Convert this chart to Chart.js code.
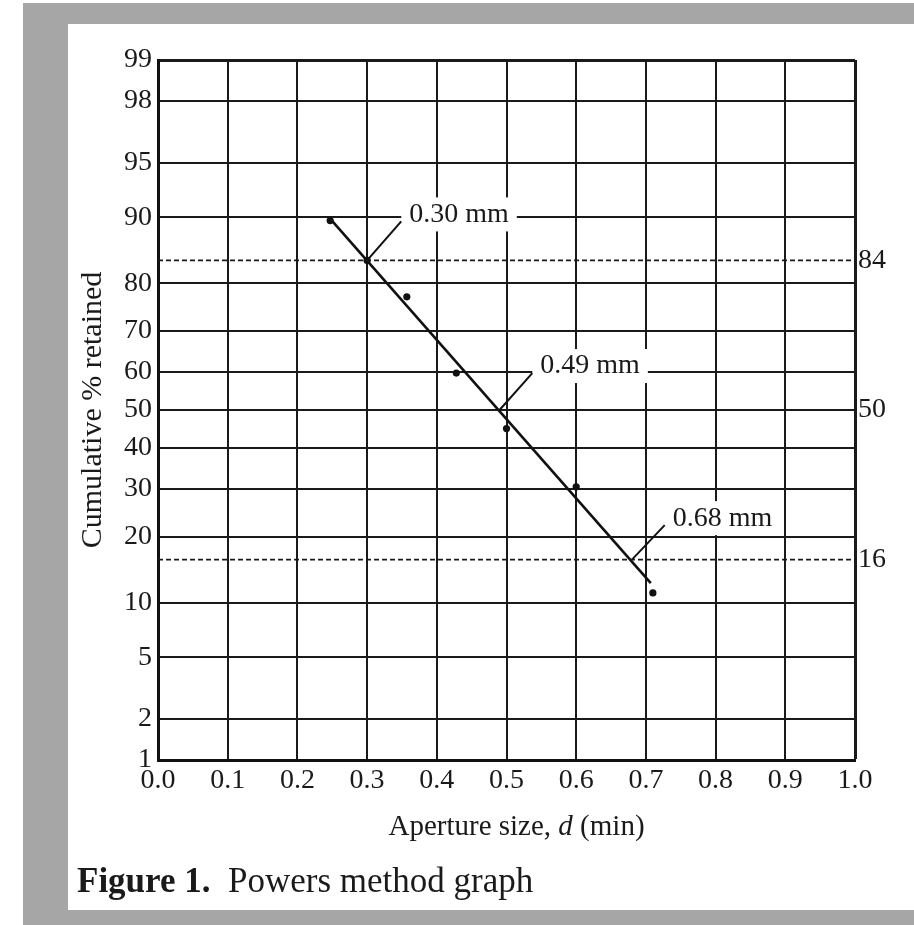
<!DOCTYPE html>
<html><head><meta charset="utf-8">
<script src="https://cdn.jsdelivr.net/npm/chart.js@4.4.0/dist/chart.umd.min.js"></script>
<style>
html,body{margin:0;padding:0;background:#fff;width:914px;height:925px;overflow:hidden}
#gray{position:absolute;left:23px;top:3px;width:891px;height:922px;background:#a6a6a6}
#panel{position:absolute;left:68px;top:24px;width:846px;height:886px;background:#fff}
#c{position:absolute;left:0;top:0}
#caption{position:absolute;left:9px;top:839px;font-family:'Liberation Serif';font-size:35px;line-height:35px;color:#1a1a1a;white-space:nowrap}
</style></head>
<body>
<div id="gray"></div>
<div id="panel">
<canvas id="c" width="846" height="886"></canvas>
<div id="caption"><b>Figure 1.</b>&nbsp; Powers method graph</div>
</div>
<script>
// ---- data ----
const yTickPercents = [1, 2, 5, 10, 20, 30, 40, 50, 60, 70, 80, 90, 95, 98, 99];
const rightTickPercents = [16, 50, 84];
const apertureObs = [0.247, 0.30, 0.357, 0.428, 0.50, 0.60, 0.71];
const retainedObs = [89.6, 84, 77.4, 59.7, 45.1, 30.5, 11.2];
const fitAperture = [0.245, 0.707];
const fitRetained = [90, 12.5];
const refLevels = [84, 16];
const annotText = ['0.30 mm', '0.49 mm', '0.68 mm'];
const annotFromX = [0.30, 0.49, 0.68];
const annotFromY = [84, 50, 16];
const annotToX = [0.349, 0.537, 0.727];
const annotToY = [89.5, 59.7, 22.2];
const xTitleParts = ['Aperture size, ', 'd', ' (min)'];
const yTitle = 'Cumulative % retained';

// inverse normal CDF (probability-paper axis)
function probit(pct){
  const p = pct/100;
  const a=[-3.969683028665376e+01,2.209460984245205e+02,-2.759285104469687e+02,1.383577518672690e+02,-3.066479806614716e+01,2.506628277459239e+00];
  const b=[-5.447609879822406e+01,1.615858368580409e+02,-1.556989798598866e+02,6.680131188771972e+01,-1.328068155288572e+01];
  const c=[-7.784894002430293e-03,-3.223964580411365e-01,-2.400758277161838e+00,-2.549732539343734e+00,4.374664141464968e+00,2.938163982698783e+00];
  const d=[7.784695709041462e-03,3.224671290700398e-01,2.445134137142996e+00,3.754408661907416e+00];
  const pl=0.02425, ph=1-pl; let q,r;
  if(p<pl){q=Math.sqrt(-2*Math.log(p));return (((((c[0]*q+c[1])*q+c[2])*q+c[3])*q+c[4])*q+c[5])/((((d[0]*q+d[1])*q+d[2])*q+d[3])*q+1);}
  if(p<=ph){q=p-0.5;r=q*q;return (((((a[0]*r+a[1])*r+a[2])*r+a[3])*r+a[4])*r+a[5])*q/(((((b[0]*r+b[1])*r+b[2])*r+b[3])*r+b[4])*r+1);}
  q=Math.sqrt(-2*Math.log(1-p));return -(((((c[0]*q+c[1])*q+c[2])*q+c[3])*q+c[4])*q+c[5])/((((d[0]*q+d[1])*q+d[2])*q+d[3])*q+1);
}

const INK = '#1a1a1a';
const SERIF = "'Liberation Serif', 'Times New Roman', serif";
const yMin = probit(yTickPercents[0]);
const yMax = probit(yTickPercents[yTickPercents.length-1]);

const datasets = [];
refLevels.forEach(l => datasets.push({
  data: [{x:0, y:probit(l)}, {x:1, y:probit(l)}],
  showLine: true, borderColor: INK, borderWidth: 1.6, borderDash: [5, 3],
  pointRadius: 0
}));
datasets.push({
  data: fitAperture.map((x,i)=>({x, y: probit(fitRetained[i])})),
  showLine: true, borderColor: '#111', borderWidth: 2.6, pointRadius: 0
});
annotText.forEach((t,i) => datasets.push({
  data: [{x:annotFromX[i], y:probit(annotFromY[i])}, {x:annotToX[i], y:probit(annotToY[i])}],
  showLine: true, borderColor: '#111', borderWidth: 2, pointRadius: 0
}));
datasets.push({
  data: apertureObs.map((x,i)=>({x, y: probit(retainedObs[i])})),
  showLine: false, pointRadius: 3.6, pointBackgroundColor: '#111', pointBorderWidth: 0
});

const annotPlugin = {
  id: 'annot',
  beforeDatasetsDraw(chart){
    const {ctx, scales:{x, y}} = chart;
    ctx.save();
    ctx.font = "28px " + SERIF;
    ctx.textBaseline = 'middle';
    annotText.forEach((t,i) => {
      const px = x.getPixelForValue(annotToX[i]);
      const py = y.getPixelForValue(probit(annotToY[i]));
      const w = ctx.measureText(t).width;
      const cy = py - 7;
      ctx.fillStyle = '#fff';
      ctx.fillRect(px, cy-17, w+16, 34);
      ctx.fillStyle = INK;
      ctx.fillText(t, px+8, cy);
    });
    ctx.restore();
  },
  afterDraw(chart){
    const {ctx} = chart;
    ctx.save();
    ctx.fillStyle = INK;
    ctx.textBaseline = 'alphabetic';
    const fonts = ["29px " + SERIF, "italic 29px " + SERIF, "29px " + SERIF];
    const widths = xTitleParts.map((t,i)=>{ctx.font = fonts[i]; return ctx.measureText(t).width;});
    const total = widths.reduce((s,v)=>s+v,0);
    let cx = 448.5 - total/2;
    xTitleParts.forEach((t,i)=>{ ctx.font = fonts[i]; ctx.fillText(t, cx, 811); cx += widths[i]; });
    ctx.restore();
  }
};

new Chart(document.getElementById('c'), {
  type: 'scatter',
  data: { datasets },
  plugins: [annotPlugin],
  options: {
    responsive: false,
    devicePixelRatio: 1,
    animation: false,
    events: [],
    layout: { padding: { top: 36, left: 0, right: 0, bottom: 0 } },
    plugins: { legend: { display: false }, tooltip: { enabled: false } },
    scales: {
      x: {
        type: 'linear', min: 0, max: 1,
        afterFit: s => { s.height = 150; },
        ticks: { stepSize: 0.1, padding: 4, color: INK, font: { family: SERIF, size: 28 },
                 callback: v => Number(v).toFixed(1), maxRotation: 0, autoSkip: false },
        grid: { color: INK, lineWidth: c => (c.index === 10 ? 3 : 2), drawTicks: false },
        border: { color: '#111', width: 3 }
      },
      y: {
        type: 'linear', min: yMin, max: yMax,
        afterFit: s => { s.width = 90; },
        afterBuildTicks: s => { s.ticks = yTickPercents.map(p => ({ value: probit(p) })); },
        ticks: { padding: 6, color: INK, font: { family: SERIF, size: 28 }, autoSkip: false,
                 callback: (v, i) => String(yTickPercents[i]) },
        grid: { color: INK, lineWidth: c => (c.index === yTickPercents.length-1 ? 3 : 2), drawTicks: false },
        border: { color: '#111', width: 3 },
        title: { display: true, text: yTitle, color: INK, font: { family: SERIF, size: 30 }, padding: { top: 7, bottom: 0 } }
      },
      y2: {
        type: 'linear', position: 'right', min: yMin, max: yMax,
        afterFit: s => { s.width = 59; },
        afterBuildTicks: s => { s.ticks = rightTickPercents.map(p => ({ value: probit(p) })); },
        ticks: { padding: 3, color: INK, font: { family: SERIF, size: 28 }, autoSkip: false,
                 callback: (v, i) => String(rightTickPercents[i]) },
        grid: { display: false, drawTicks: false },
        border: { display: false }
      }
    }
  }
});
</script>
</body></html>
